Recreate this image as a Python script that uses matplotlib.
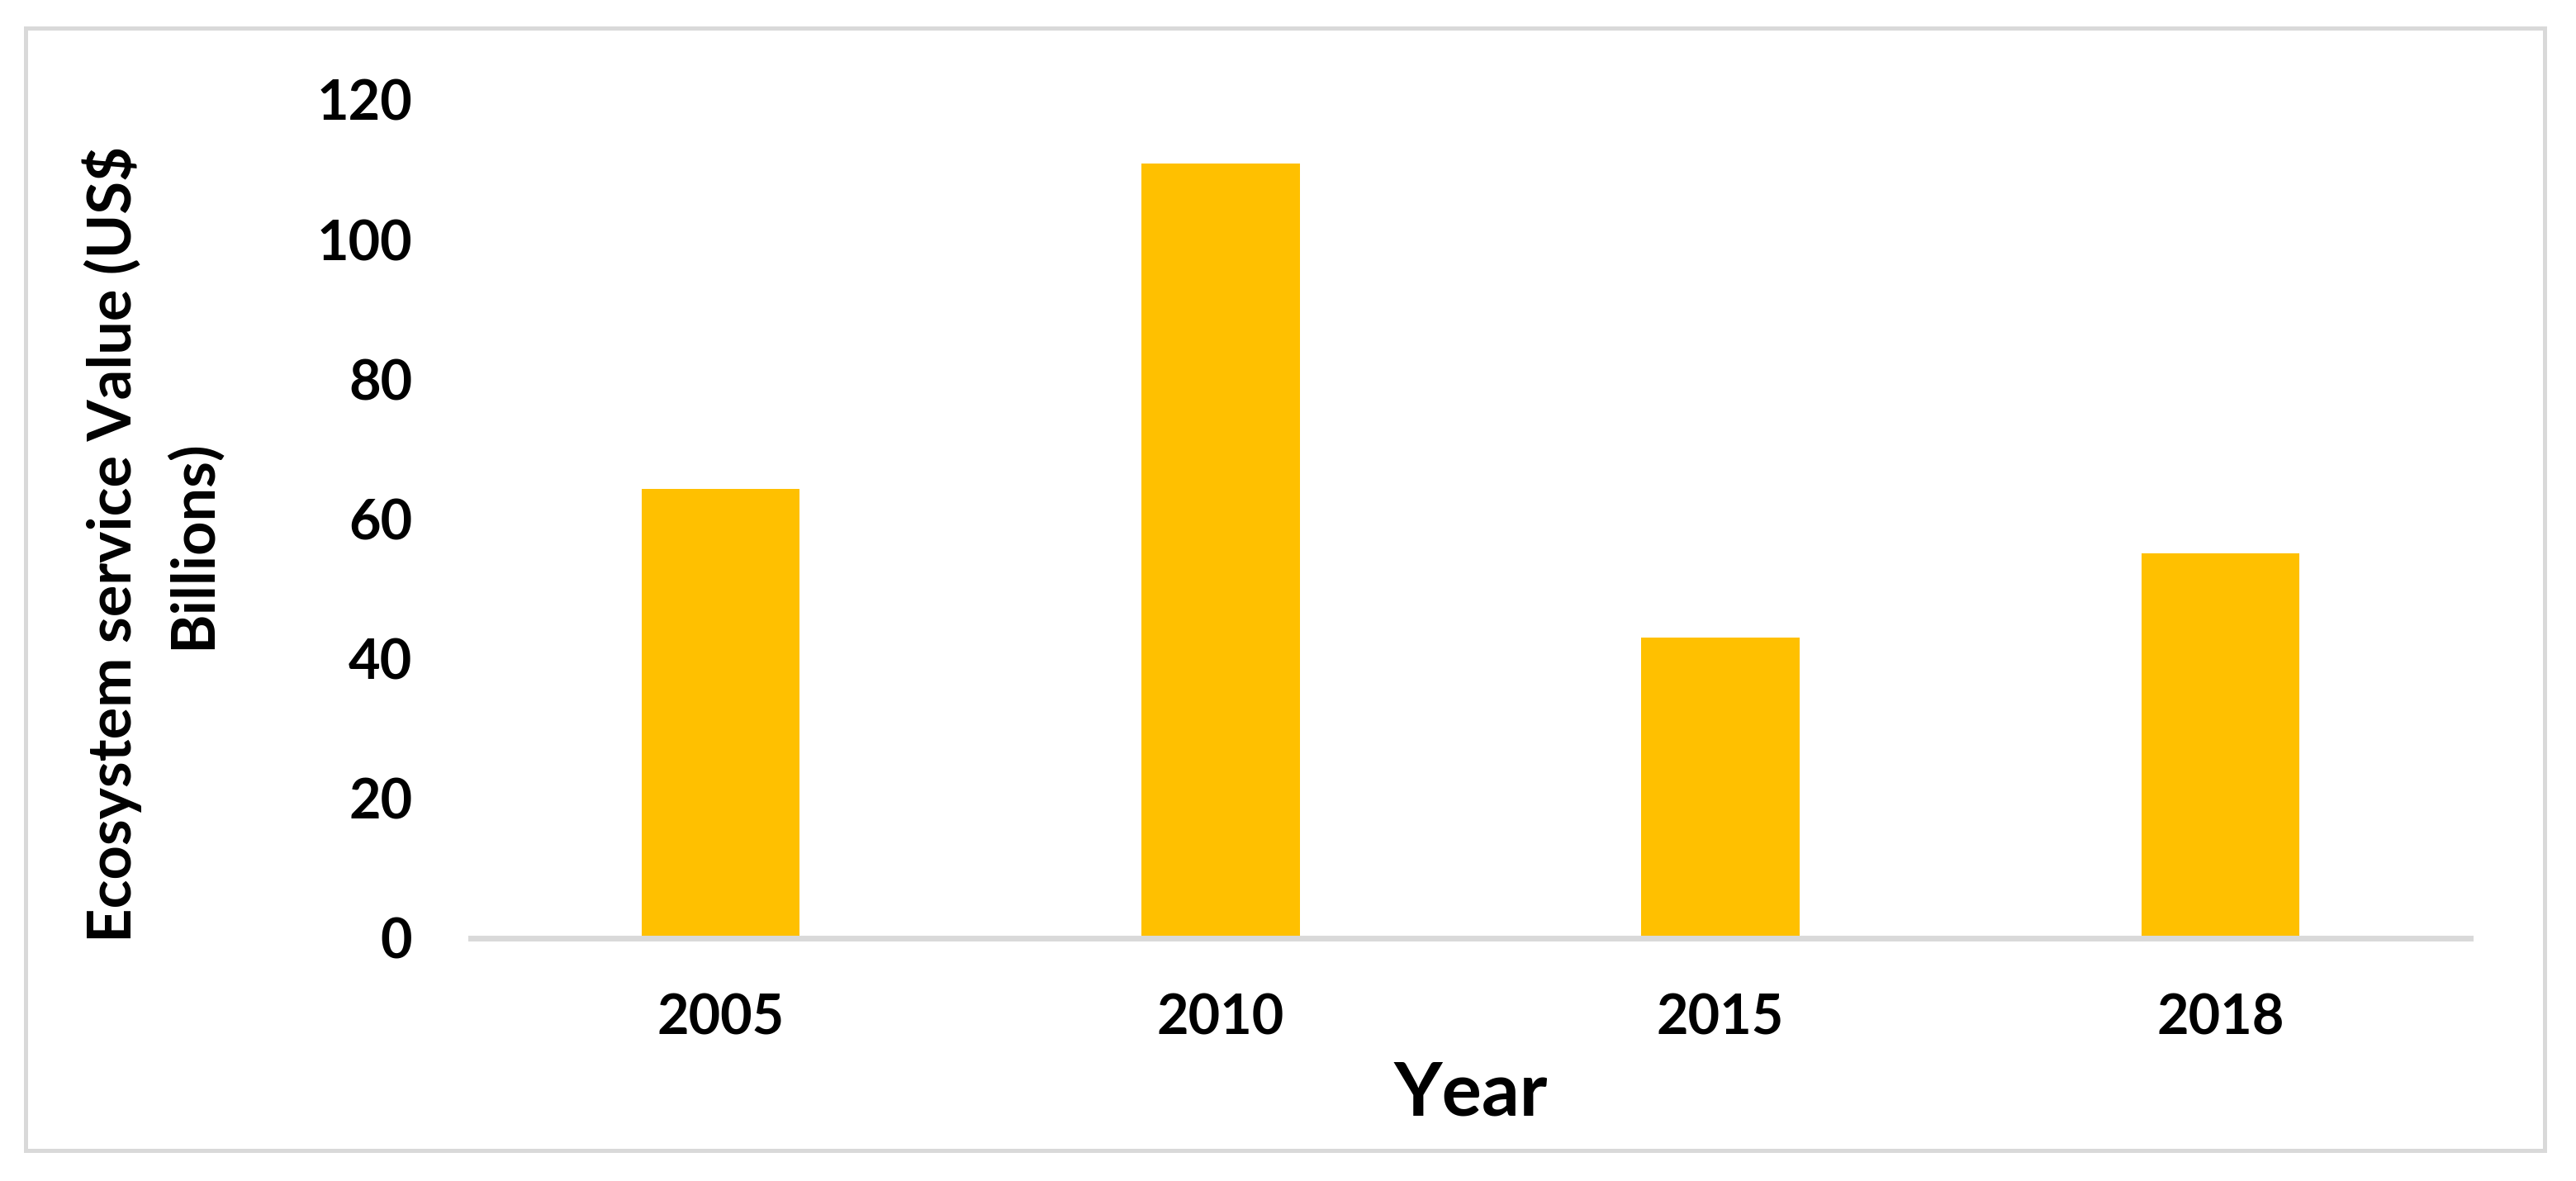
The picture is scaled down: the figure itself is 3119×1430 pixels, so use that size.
import matplotlib
matplotlib.use('Agg')
import matplotlib.pyplot as plt
from matplotlib.patches import Rectangle

# data
years = ['2005', '2010', '2015', '2018']
values = [64.3, 110.9, 43.0, 55.1]

plt.rcParams['font.family'] = ['Lato', 'DejaVu Sans']
plt.rcParams['font.weight'] = 'bold'

W, H = 3119, 1430
fig = plt.figure(figsize=(W / 100, H / 100), dpi=100)

# plot area
ax = fig.add_axes([570 / W, 1 - 1135.5 / H, (2991 - 570) / W, (1135.5 - 121) / H])
x = range(len(years))
ax.bar(x, values, width=0.316, color='#FFC000', zorder=2)

ax.set_xlim(-0.5, 3.5)
ax.set_ylim(0, 120)
ax.set_yticks([0, 20, 40, 60, 80, 100, 120])
ax.set_xticks(list(x))
ax.set_xticklabels(years)

for side in ['top', 'right', 'left']:
    ax.spines[side].set_visible(False)
ax.spines['bottom'].set_color('#D9D9D9')
ax.spines['bottom'].set_linewidth(5.0)
ax.spines['bottom'].set_zorder(3)

ax.tick_params(axis='y', length=0, pad=51, labelsize=48)
ax.tick_params(axis='x', length=0, pad=48, labelsize=48)

ax.set_xlabel('Year', fontsize=65, fontweight='bold', labelpad=14)
ax.set_ylabel('Ecosystem service Value (US$\nBillions)', fontsize=52,
              fontweight='bold', linespacing=1.48)
ax.yaxis.set_label_coords((268 - 570) / 2421, (1135.5 - 659) / 1014.5)

# outer frame
fig.patches.append(Rectangle((30.5 / W, 1 - 1393 / H), (3081 - 30.5) / W, (1393 - 34) / H,
                             transform=fig.transFigure, fill=False,
                             edgecolor='#D9D9D9', linewidth=3.6))

plt.savefig('out.png', dpi=100)
